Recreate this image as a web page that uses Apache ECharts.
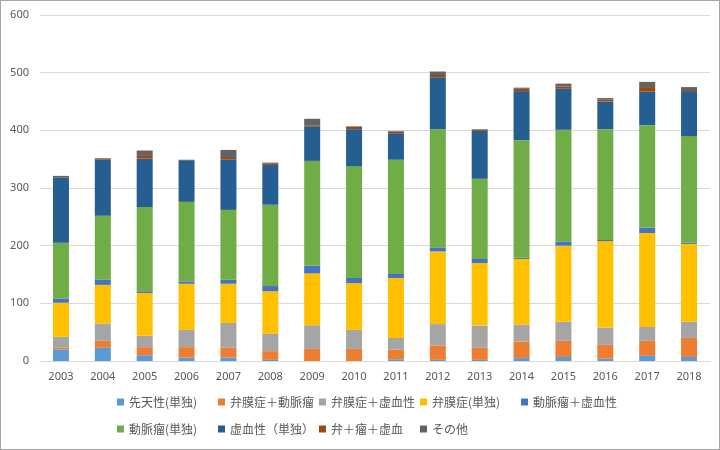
<!DOCTYPE html>
<html>
<head>
<meta charset="utf-8">
<script src="https://cdn.jsdelivr.net/npm/echarts@6/dist/echarts.min.js"></script>
<style>
html,body{margin:0;padding:0;background:#fff;}
#c{width:718px;height:448px;border:1px solid #a6a6a6;}
</style>
</head>
<body>
<div id="c"></div>
<script>
var years = ['2003','2004','2005','2006','2007','2008','2009','2010','2011','2012','2013','2014','2015','2016','2017','2018'];
var seriesNames = ['先天性(単独)','弁膜症＋動脈瘤','弁膜症＋虚血性','弁膜症(単独)','動脈瘤＋虚血性','動脈瘤(単独)','虚血性（単独）','弁＋瘤＋虚血','その他'];
var congenital   = [20, 23, 10,  6,  6,  2,   0,   0,   3,   2,   2,   5,   7,   4,   9,   7];
var valveAneur   = [ 3, 12, 14, 18, 17, 15,  21,  21,  17,  25,  21,  29,  28,  24,  26,  33];
var valveIsch    = [19, 30, 20, 30, 43, 30,  41,  33,  20,  37,  38,  29,  33,  30,  24,  28];
var valveOnly    = [59, 67, 74, 80, 68, 74,  90,  81, 104, 126, 109, 114, 132, 150, 163, 135];
var aneurIsch    = [ 7,  9,  3,  4,  7,  9,  13,   9,   7,   7,   7,   2,   7,   2,   9,   2];
var aneurOnly    = [97,111,146,138,121,141, 182, 194, 198, 205, 139, 204, 194, 192, 178, 185];
var ischOnly     = [113,97, 84, 71, 87, 69,  59,  64,  46,  90,  83,  85,  71,  48,  58,  78];
var valveAnIsch  = [ 0,  2,  6,  0,  3,  3,   2,   4,   3,   4,   2,   4,   4,   3,   8,   2];
var others       = [ 3,  1,  8,  2, 14,  1,  12,   1,   1,   6,   1,   2,   5,   3,   9,   5];
var yTicks = [0,100,200,300,400,500,600];

var values = [congenital, valveAneur, valveIsch, valveOnly, aneurIsch, aneurOnly, ischOnly, valveAnIsch, others];
var colors = ['#5B9BD5','#ED7D31','#A5A5A5','#FFC000','#4472C4','#70AD47','#255E91','#9E480E','#636363'];

var chart = echarts.init(document.getElementById('c'));
var series = seriesNames.map(function(n, i){
  return {name: n, type: 'bar', stack: 'total', data: values[i], barWidth: 16,
          itemStyle: {color: colors[i]}};
});
chart.setOption({
  animation: false,
  textStyle: {fontFamily: '"Noto Sans CJK JP", "Noto Sans", sans-serif'},
  grid: {left: 39, right: 9, top: 14, bottom: 88, containLabel: false},
  xAxis: {
    type: 'category', data: years,
    axisLine: {lineStyle: {color: '#d9d9d9'}},
    axisTick: {show: false},
    axisLabel: {color: '#595959', fontSize: 11, margin: 10, fontFamily: '"Noto Sans", sans-serif'}
  },
  yAxis: {
    type: 'value', min: yTicks[0], max: yTicks[yTicks.length-1], interval: 100,
    axisLine: {show: false}, axisTick: {show: false},
    splitLine: {lineStyle: {color: '#d9d9d9'}},
    axisLabel: {color: '#595959', fontSize: 11, margin: 11, fontFamily: '"Noto Sans", sans-serif'}
  },
  legend: {
    data: seriesNames,
    left: 116, top: 388, width: 530, padding: 0,
    icon: 'rect', itemWidth: 7, itemHeight: 7, itemGap: 1,
    textStyle: {color: '#595959', fontSize: 12, width: 88, lineHeight: 26, padding: [0,0,0,0],
                fontFamily: '"Noto Sans CJK JP", sans-serif'}
  },
  series: series
});
</script>
</body>
</html>
